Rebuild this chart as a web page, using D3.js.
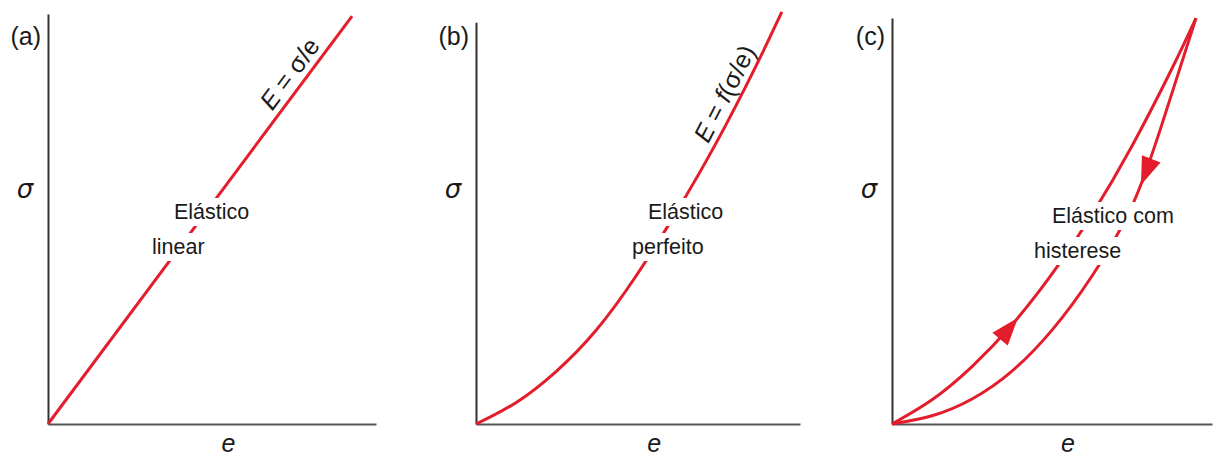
<!DOCTYPE html>
<html>
<head>
<meta charset="utf-8">
<script src="https://cdn.jsdelivr.net/npm/d3@7"></script>
<style>
  body { margin: 0; background: #fff; }
  text { font-family: "Liberation Sans", Arial, Helvetica, sans-serif; fill: #1a1a1a; }
</style>
</head>
<body>
<svg width="1217" height="456"></svg>
<script>
// panel letters and labels
var panelNames = ["(a)", "(b)", "(c)"],
    labelTop = ["Elástico", "Elástico", "Elástico com"],
    labelBottom = ["linear", "perfeito", "histerese"];
// modulus label pieces: [text, italic?]
var modulusText = [
  [["E", true], [" = σ/e", false]],
  [["E", true], [" = ", false], ["f", true], ["(σ/e)", false]],
  null
];

// curves, [e, sigma] in relative units (0..1)
var lineA = [[0, 0], [0.927, 0.995]];
var curveB = [[0, 0], [0.123, 0.052], [0.247, 0.128], [0.370, 0.228], [0.494, 0.361],
              [0.617, 0.515], [0.741, 0.685], [0.864, 0.873], [0.944, 1.005]];
var loadingC = [[0, 0], [0.125, 0.059], [0.25, 0.140], [0.375, 0.242], [0.5, 0.366],
                [0.625, 0.511], [0.75, 0.678], [0.875, 0.867], [0.95, 0.99]];
var unloadingC = [[0, 0], [0.125, 0.020], [0.25, 0.061], [0.375, 0.129], [0.5, 0.229],
                  [0.625, 0.361], [0.75, 0.532], [0.844, 0.732], [0.95, 0.99]];

// where the rotated modulus text sits (e) and where the arrows point (e)
var modulusAt = [0.775, 0.81],
    arrowUpAt = 0.394,
    arrowDownAt = 0.778;

var red = "#e31d2b";

var svg = d3.select("svg");
var left = [48, 476, 892],
    axisLen = [328, 324, 320],
    axisTop = [1.0, 0.98, 0.99];

var y = d3.scaleLinear().domain([0, 1]).range([424, 14]);

// find the point on a drawn path whose x is closest to px
function pointAtX(node, px) {
  var total = node.getTotalLength(), lo = 0, hi = total;
  for (var i = 0; i < 40; i++) {
    var mid = (lo + hi) / 2;
    if (node.getPointAtLength(mid).x < px) lo = mid; else hi = mid;
  }
  var p = node.getPointAtLength(lo),
      a = node.getPointAtLength(Math.max(0, lo - 3)),
      b = node.getPointAtLength(Math.min(total, lo + 3));
  return { x: p.x, y: p.y, angle: Math.atan2(b.y - a.y, b.x - a.x) * 180 / Math.PI };
}

var curves = [[lineA], [curveB], [loadingC, unloadingC]];

panelNames.forEach(function(name, i) {
  var x = d3.scaleLinear().domain([0, 1]).range([left[i], left[i] + axisLen[i]]);
  var g = svg.append("g");

  // axes, no ticks
  g.append("g")
      .attr("transform", "translate(0," + y(0) + ")")
      .call(d3.axisBottom(x).tickValues([]).tickSizeOuter(0))
      .select(".domain").attr("stroke", "#555").attr("stroke-width", 2);
  g.append("g")
      .attr("transform", "translate(" + x(0) + ",0)")
      .call(d3.axisLeft(y.copy().domain([0, axisTop[i]]).range([424, y(axisTop[i])])).tickValues([]).tickSizeOuter(0))
      .select(".domain").attr("stroke", "#333").attr("stroke-width", 2);

  g.append("text").attr("x", x(0) - 7).attr("y", 45)
      .attr("text-anchor", "end").style("font-size", "25px").text(name);
  g.append("text").attr("x", x(0) - 23).attr("y", 198)
      .attr("text-anchor", "middle").style("font-size", "26px").style("font-style", "italic")
      .style("font-family", "'DejaVu Sans', sans-serif").text("σ");
  g.append("text").attr("x", x(0.55)).attr("y", 452)
      .attr("text-anchor", "middle").style("font-size", "25px").style("font-style", "italic").text("e");

  var line = d3.line()
      .x(function(d) { return x(d[0]); })
      .y(function(d) { return y(d[1]); })
      .curve(d3.curveNatural);

  var paths = curves[i].map(function(c) {
    return g.append("path").datum(c)
        .attr("d", line)
        .attr("fill", "none")
        .attr("stroke", red)
        .attr("stroke-width", 3)
        .node();
  });

  // modulus label along the curve
  if (modulusText[i]) {
    var p = pointAtX(paths[0], x(modulusAt[i]));
    var rad = (p.angle - 90) * Math.PI / 180;
    var ox = p.x + 7 * Math.cos(rad), oy = p.y + 7 * Math.sin(rad);
    var t = g.append("text")
        .attr("transform", "translate(" + ox + "," + oy + ") rotate(" + p.angle + ")")
        .attr("text-anchor", "middle")
        .style("font-size", "25px");
    modulusText[i].forEach(function(part) {
      t.append("tspan").style("font-style", part[1] ? "italic" : "normal").text(part[0]);
    });
  }

  // arrows on the hysteresis loop
  if (i === 2) {
    var tri = "M0,0L-28,-10L-28,10Z";
    var up = pointAtX(paths[0], x(arrowUpAt));
    g.append("path").attr("d", tri).attr("fill", red)
        .attr("transform", "translate(" + up.x + "," + up.y + ") rotate(" + up.angle + ")");
    var dn = pointAtX(paths[1], x(arrowDownAt));
    g.append("path").attr("d", tri).attr("fill", red)
        .attr("transform", "translate(" + dn.x + "," + dn.y + ") rotate(" + (dn.angle + 180) + ")");
  }
});

// curve labels with a white backing that hides the line
var topPos = [[174, 219], [648, 219], [1052, 223]],
    botPos = [[152, 254], [632, 254], [1034, 258]];
function backedText(str, pos) {
  var t = svg.append("text").attr("x", pos[0]).attr("y", pos[1])
      .style("font-size", "21.5px").text(str);
  var bb = t.node().getBBox();
  svg.insert("rect", function() { return t.node(); })
      .attr("x", bb.x - 4).attr("y", bb.y - 2)
      .attr("width", bb.width + 8).attr("height", bb.height + 4)
      .attr("fill", "#fff");
}
labelTop.forEach(function(s, i) { backedText(s, topPos[i]); });
labelBottom.forEach(function(s, i) { backedText(s, botPos[i]); });
</script>
</body>
</html>
